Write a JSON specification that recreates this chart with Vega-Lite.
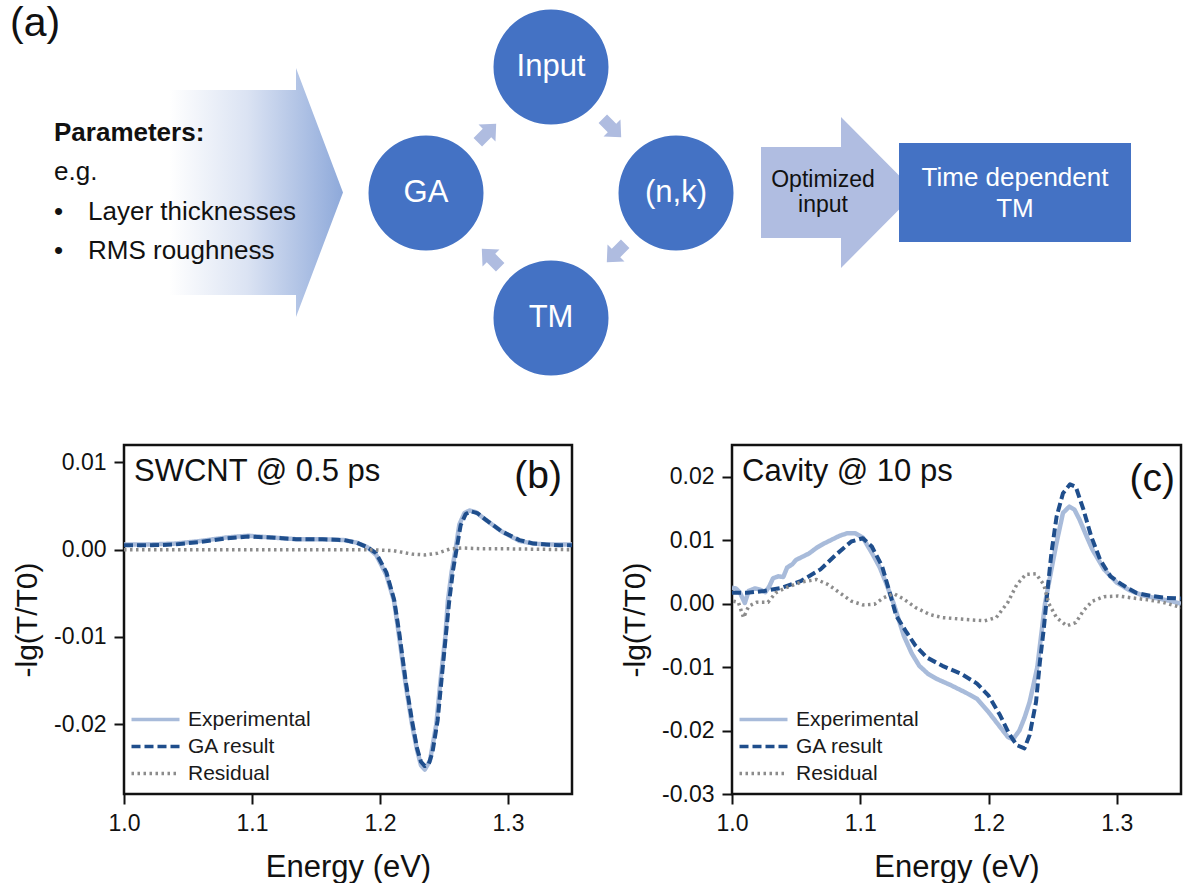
{
  "$schema": "https://vega.github.io/schema/vega-lite/v6.json",
  "padding": {"left": 10, "top": 0, "right": 0, "bottom": 0},
  "background": "white",
  "spacing": 43,
  "align": "none",
  "resolve": {"legend": {"color": "independent", "strokeDash": "independent"}},
  "config": {
    "font": "Liberation Sans",
    "view": {"stroke": "#111111", "strokeWidth": 2.5},
    "axis": {
      "grid": false, "domain": false, "ticks": true, "labelFlush": false,
      "tickColor": "#111111", "tickWidth": 2, "tickSize": 10,
      "labelFont": "Liberation Sans", "labelFontSize": 23, "labelColor": "#111111",
      "titleFont": "Liberation Sans", "titleFontWeight": "normal", "titleColor": "#111111"
    },
    "axisX": {"labelPadding": 8, "titlePadding": 17, "titleFontSize": 31},
    "axisY": {"labelPadding": 8, "titlePadding": 12, "titleFontSize": 30, "minExtent": 70, "maxExtent": 70},
    "text": {"font": "Liberation Sans"}
  },
  "datasets": {
    "diagramNodes": [
      {"name": "GA", "x": 427, "y": 193},
      {"name": "Input", "x": 552, "y": 67},
      {"name": "(n,k)", "x": 677, "y": 193},
      {"name": "TM", "x": 552, "y": 318}
    ],
    "diagramSteps": [
      {"x": 488, "y": 133, "heading": -45},
      {"x": 613, "y": 128, "heading": 45},
      {"x": 617, "y": 253, "heading": 135},
      {"x": 492, "y": 258, "heading": -135}
    ],
    "diagramText": [
      {"t": "(a)", "x": 11, "y": 24, "role": "tag"},
      {"t": "Parameters:", "x": 55, "y": 133, "role": "heading"},
      {"t": "e.g.", "x": 55, "y": 172, "role": "body"},
      {"t": "•", "x": 55, "y": 212, "role": "body"},
      {"t": "Layer thicknesses", "x": 89, "y": 212, "role": "body"},
      {"t": "•", "x": 55, "y": 251, "role": "body"},
      {"t": "RMS roughness", "x": 89, "y": 251, "role": "body"},
      {"t": "Optimized", "x": 824, "y": 180, "role": "flow"},
      {"t": "input", "x": 824, "y": 205, "role": "flow"},
      {"t": "Time dependent", "x": 1016, "y": 178, "role": "box"},
      {"t": "TM", "x": 1016, "y": 209, "role": "box"}
    ],
    "swcnt": [
      {"E": 1.000, "v": 0.0006, "series": "Experimental"},
      {"E": 1.020, "v": 0.0006, "series": "Experimental"},
      {"E": 1.040, "v": 0.0007, "series": "Experimental"},
      {"E": 1.060, "v": 0.0010, "series": "Experimental"},
      {"E": 1.080, "v": 0.0014, "series": "Experimental"},
      {"E": 1.097, "v": 0.0016, "series": "Experimental"},
      {"E": 1.115, "v": 0.0014, "series": "Experimental"},
      {"E": 1.135, "v": 0.0012, "series": "Experimental"},
      {"E": 1.155, "v": 0.0012, "series": "Experimental"},
      {"E": 1.172, "v": 0.0011, "series": "Experimental"},
      {"E": 1.182, "v": 0.0008, "series": "Experimental"},
      {"E": 1.190, "v": 0.0003, "series": "Experimental"},
      {"E": 1.197, "v": -0.0006, "series": "Experimental"},
      {"E": 1.205, "v": -0.0029, "series": "Experimental"},
      {"E": 1.211, "v": -0.0059, "series": "Experimental"},
      {"E": 1.215, "v": -0.0100, "series": "Experimental"},
      {"E": 1.220, "v": -0.0154, "series": "Experimental"},
      {"E": 1.225, "v": -0.0200, "series": "Experimental"},
      {"E": 1.229, "v": -0.0230, "series": "Experimental"},
      {"E": 1.232, "v": -0.0247, "series": "Experimental"},
      {"E": 1.235, "v": -0.0252, "series": "Experimental"},
      {"E": 1.239, "v": -0.0242, "series": "Experimental"},
      {"E": 1.244, "v": -0.0200, "series": "Experimental"},
      {"E": 1.247, "v": -0.0154, "series": "Experimental"},
      {"E": 1.251, "v": -0.0100, "series": "Experimental"},
      {"E": 1.253, "v": -0.0059, "series": "Experimental"},
      {"E": 1.256, "v": -0.0025, "series": "Experimental"},
      {"E": 1.259, "v": 0.0000, "series": "Experimental"},
      {"E": 1.262, "v": 0.0029, "series": "Experimental"},
      {"E": 1.266, "v": 0.0042, "series": "Experimental"},
      {"E": 1.270, "v": 0.0045, "series": "Experimental"},
      {"E": 1.275, "v": 0.0043, "series": "Experimental"},
      {"E": 1.281, "v": 0.0036, "series": "Experimental"},
      {"E": 1.295, "v": 0.0021, "series": "Experimental"},
      {"E": 1.309, "v": 0.0010, "series": "Experimental"},
      {"E": 1.320, "v": 0.0007, "series": "Experimental"},
      {"E": 1.330, "v": 0.0006, "series": "Experimental"},
      {"E": 1.340, "v": 0.0006, "series": "Experimental"},
      {"E": 1.350, "v": 0.0006, "series": "Experimental"},
      {"E": 1.000, "v": 0.0005, "series": "GA result"},
      {"E": 1.020, "v": 0.0005, "series": "GA result"},
      {"E": 1.040, "v": 0.0006, "series": "GA result"},
      {"E": 1.060, "v": 0.0009, "series": "GA result"},
      {"E": 1.080, "v": 0.0013, "series": "GA result"},
      {"E": 1.097, "v": 0.0015, "series": "GA result"},
      {"E": 1.115, "v": 0.0014, "series": "GA result"},
      {"E": 1.135, "v": 0.0012, "series": "GA result"},
      {"E": 1.155, "v": 0.0012, "series": "GA result"},
      {"E": 1.172, "v": 0.0011, "series": "GA result"},
      {"E": 1.182, "v": 0.0008, "series": "GA result"},
      {"E": 1.190, "v": 0.0003, "series": "GA result"},
      {"E": 1.197, "v": -0.0004, "series": "GA result"},
      {"E": 1.205, "v": -0.0026, "series": "GA result"},
      {"E": 1.211, "v": -0.0057, "series": "GA result"},
      {"E": 1.215, "v": -0.0095, "series": "GA result"},
      {"E": 1.220, "v": -0.0150, "series": "GA result"},
      {"E": 1.225, "v": -0.0196, "series": "GA result"},
      {"E": 1.229, "v": -0.0228, "series": "GA result"},
      {"E": 1.232, "v": -0.0243, "series": "GA result"},
      {"E": 1.235, "v": -0.0248, "series": "GA result"},
      {"E": 1.238, "v": -0.0246, "series": "GA result"},
      {"E": 1.241, "v": -0.0232, "series": "GA result"},
      {"E": 1.245, "v": -0.0196, "series": "GA result"},
      {"E": 1.248, "v": -0.0150, "series": "GA result"},
      {"E": 1.251, "v": -0.0105, "series": "GA result"},
      {"E": 1.254, "v": -0.0060, "series": "GA result"},
      {"E": 1.257, "v": -0.0024, "series": "GA result"},
      {"E": 1.260, "v": 0.0002, "series": "GA result"},
      {"E": 1.263, "v": 0.0028, "series": "GA result"},
      {"E": 1.267, "v": 0.0041, "series": "GA result"},
      {"E": 1.271, "v": 0.0044, "series": "GA result"},
      {"E": 1.276, "v": 0.0042, "series": "GA result"},
      {"E": 1.282, "v": 0.0035, "series": "GA result"},
      {"E": 1.295, "v": 0.0021, "series": "GA result"},
      {"E": 1.309, "v": 0.0011, "series": "GA result"},
      {"E": 1.320, "v": 0.0007, "series": "GA result"},
      {"E": 1.330, "v": 0.0006, "series": "GA result"},
      {"E": 1.340, "v": 0.0005, "series": "GA result"},
      {"E": 1.350, "v": 0.0005, "series": "GA result"},
      {"E": 1.000, "v": 0.0000, "series": "Residual"},
      {"E": 1.050, "v": 0.0000, "series": "Residual"},
      {"E": 1.100, "v": 0.0000, "series": "Residual"},
      {"E": 1.150, "v": 0.0000, "series": "Residual"},
      {"E": 1.190, "v": 0.0000, "series": "Residual"},
      {"E": 1.210, "v": -0.0001, "series": "Residual"},
      {"E": 1.225, "v": -0.0005, "series": "Residual"},
      {"E": 1.235, "v": -0.0006, "series": "Residual"},
      {"E": 1.245, "v": -0.0004, "series": "Residual"},
      {"E": 1.255, "v": 0.0001, "series": "Residual"},
      {"E": 1.265, "v": 0.0002, "series": "Residual"},
      {"E": 1.280, "v": 0.0001, "series": "Residual"},
      {"E": 1.300, "v": 0.0001, "series": "Residual"},
      {"E": 1.350, "v": 0.0000, "series": "Residual"}
    ],
    "cavity": [
      {"E": 1.000, "v": 0.0025, "series": "Experimental"},
      {"E": 1.003, "v": 0.0024, "series": "Experimental"},
      {"E": 1.006, "v": 0.0018, "series": "Experimental"},
      {"E": 1.010, "v": 0.0001, "series": "Experimental"},
      {"E": 1.013, "v": 0.0020, "series": "Experimental"},
      {"E": 1.018, "v": 0.0024, "series": "Experimental"},
      {"E": 1.022, "v": 0.0022, "series": "Experimental"},
      {"E": 1.026, "v": 0.0018, "series": "Experimental"},
      {"E": 1.029, "v": 0.0027, "series": "Experimental"},
      {"E": 1.032, "v": 0.0040, "series": "Experimental"},
      {"E": 1.036, "v": 0.0043, "series": "Experimental"},
      {"E": 1.040, "v": 0.0042, "series": "Experimental"},
      {"E": 1.043, "v": 0.0057, "series": "Experimental"},
      {"E": 1.047, "v": 0.0062, "series": "Experimental"},
      {"E": 1.050, "v": 0.0069, "series": "Experimental"},
      {"E": 1.055, "v": 0.0074, "series": "Experimental"},
      {"E": 1.060, "v": 0.0079, "series": "Experimental"},
      {"E": 1.066, "v": 0.0088, "series": "Experimental"},
      {"E": 1.072, "v": 0.0095, "series": "Experimental"},
      {"E": 1.078, "v": 0.0101, "series": "Experimental"},
      {"E": 1.084, "v": 0.0107, "series": "Experimental"},
      {"E": 1.090, "v": 0.0111, "series": "Experimental"},
      {"E": 1.096, "v": 0.0111, "series": "Experimental"},
      {"E": 1.102, "v": 0.0104, "series": "Experimental"},
      {"E": 1.109, "v": 0.0080, "series": "Experimental"},
      {"E": 1.115, "v": 0.0058, "series": "Experimental"},
      {"E": 1.120, "v": 0.0033, "series": "Experimental"},
      {"E": 1.126, "v": 0.0000, "series": "Experimental"},
      {"E": 1.134, "v": -0.0051, "series": "Experimental"},
      {"E": 1.140, "v": -0.0078, "series": "Experimental"},
      {"E": 1.146, "v": -0.0098, "series": "Experimental"},
      {"E": 1.153, "v": -0.0111, "series": "Experimental"},
      {"E": 1.160, "v": -0.0119, "series": "Experimental"},
      {"E": 1.170, "v": -0.0128, "series": "Experimental"},
      {"E": 1.182, "v": -0.0140, "series": "Experimental"},
      {"E": 1.191, "v": -0.0150, "series": "Experimental"},
      {"E": 1.200, "v": -0.0171, "series": "Experimental"},
      {"E": 1.210, "v": -0.0197, "series": "Experimental"},
      {"E": 1.215, "v": -0.0210, "series": "Experimental"},
      {"E": 1.219, "v": -0.0214, "series": "Experimental"},
      {"E": 1.224, "v": -0.0200, "series": "Experimental"},
      {"E": 1.228, "v": -0.0180, "series": "Experimental"},
      {"E": 1.232, "v": -0.0155, "series": "Experimental"},
      {"E": 1.235, "v": -0.0128, "series": "Experimental"},
      {"E": 1.238, "v": -0.0100, "series": "Experimental"},
      {"E": 1.241, "v": -0.0050, "series": "Experimental"},
      {"E": 1.244, "v": 0.0000, "series": "Experimental"},
      {"E": 1.249, "v": 0.0054, "series": "Experimental"},
      {"E": 1.253, "v": 0.0096, "series": "Experimental"},
      {"E": 1.258, "v": 0.0143, "series": "Experimental"},
      {"E": 1.263, "v": 0.0153, "series": "Experimental"},
      {"E": 1.267, "v": 0.0148, "series": "Experimental"},
      {"E": 1.271, "v": 0.0132, "series": "Experimental"},
      {"E": 1.276, "v": 0.0108, "series": "Experimental"},
      {"E": 1.281, "v": 0.0085, "series": "Experimental"},
      {"E": 1.290, "v": 0.0054, "series": "Experimental"},
      {"E": 1.300, "v": 0.0033, "series": "Experimental"},
      {"E": 1.310, "v": 0.0021, "series": "Experimental"},
      {"E": 1.320, "v": 0.0013, "series": "Experimental"},
      {"E": 1.330, "v": 0.0009, "series": "Experimental"},
      {"E": 1.340, "v": 0.0005, "series": "Experimental"},
      {"E": 1.350, "v": 0.0000, "series": "Experimental"},
      {"E": 1.000, "v": 0.0017, "series": "GA result"},
      {"E": 1.012, "v": 0.0017, "series": "GA result"},
      {"E": 1.025, "v": 0.0020, "series": "GA result"},
      {"E": 1.039, "v": 0.0025, "series": "GA result"},
      {"E": 1.054, "v": 0.0036, "series": "GA result"},
      {"E": 1.069, "v": 0.0054, "series": "GA result"},
      {"E": 1.081, "v": 0.0077, "series": "GA result"},
      {"E": 1.093, "v": 0.0098, "series": "GA result"},
      {"E": 1.102, "v": 0.0103, "series": "GA result"},
      {"E": 1.109, "v": 0.0090, "series": "GA result"},
      {"E": 1.117, "v": 0.0059, "series": "GA result"},
      {"E": 1.123, "v": 0.0017, "series": "GA result"},
      {"E": 1.128, "v": -0.0019, "series": "GA result"},
      {"E": 1.136, "v": -0.0045, "series": "GA result"},
      {"E": 1.143, "v": -0.0066, "series": "GA result"},
      {"E": 1.152, "v": -0.0085, "series": "GA result"},
      {"E": 1.164, "v": -0.0098, "series": "GA result"},
      {"E": 1.179, "v": -0.0111, "series": "GA result"},
      {"E": 1.191, "v": -0.0126, "series": "GA result"},
      {"E": 1.200, "v": -0.0145, "series": "GA result"},
      {"E": 1.209, "v": -0.0176, "series": "GA result"},
      {"E": 1.216, "v": -0.0205, "series": "GA result"},
      {"E": 1.222, "v": -0.0223, "series": "GA result"},
      {"E": 1.228, "v": -0.0228, "series": "GA result"},
      {"E": 1.232, "v": -0.0207, "series": "GA result"},
      {"E": 1.237, "v": -0.0155, "series": "GA result"},
      {"E": 1.240, "v": -0.0092, "series": "GA result"},
      {"E": 1.243, "v": -0.0040, "series": "GA result"},
      {"E": 1.246, "v": 0.0022, "series": "GA result"},
      {"E": 1.249, "v": 0.0080, "series": "GA result"},
      {"E": 1.253, "v": 0.0137, "series": "GA result"},
      {"E": 1.258, "v": 0.0174, "series": "GA result"},
      {"E": 1.2635, "v": 0.0188, "series": "GA result"},
      {"E": 1.268, "v": 0.0184, "series": "GA result"},
      {"E": 1.274, "v": 0.0148, "series": "GA result"},
      {"E": 1.280, "v": 0.0106, "series": "GA result"},
      {"E": 1.287, "v": 0.0069, "series": "GA result"},
      {"E": 1.295, "v": 0.0043, "series": "GA result"},
      {"E": 1.304, "v": 0.0030, "series": "GA result"},
      {"E": 1.315, "v": 0.0017, "series": "GA result"},
      {"E": 1.327, "v": 0.0012, "series": "GA result"},
      {"E": 1.339, "v": 0.0009, "series": "GA result"},
      {"E": 1.350, "v": 0.0008, "series": "GA result"},
      {"E": 1.001, "v": 0.0004, "series": "Residual"},
      {"E": 1.005, "v": 0.0002, "series": "Residual"},
      {"E": 1.009, "v": -0.0022, "series": "Residual"},
      {"E": 1.013, "v": -0.0004, "series": "Residual"},
      {"E": 1.019, "v": 0.0002, "series": "Residual"},
      {"E": 1.028, "v": 0.0002, "series": "Residual"},
      {"E": 1.034, "v": 0.0017, "series": "Residual"},
      {"E": 1.042, "v": 0.0025, "series": "Residual"},
      {"E": 1.054, "v": 0.0034, "series": "Residual"},
      {"E": 1.066, "v": 0.0038, "series": "Residual"},
      {"E": 1.075, "v": 0.0030, "series": "Residual"},
      {"E": 1.084, "v": 0.0017, "series": "Residual"},
      {"E": 1.093, "v": 0.0004, "series": "Residual"},
      {"E": 1.102, "v": -0.0002, "series": "Residual"},
      {"E": 1.111, "v": -0.0001, "series": "Residual"},
      {"E": 1.118, "v": 0.0009, "series": "Residual"},
      {"E": 1.126, "v": 0.0016, "series": "Residual"},
      {"E": 1.134, "v": 0.0007, "series": "Residual"},
      {"E": 1.143, "v": -0.0006, "series": "Residual"},
      {"E": 1.154, "v": -0.0017, "series": "Residual"},
      {"E": 1.164, "v": -0.0022, "series": "Residual"},
      {"E": 1.182, "v": -0.0025, "series": "Residual"},
      {"E": 1.197, "v": -0.0027, "series": "Residual"},
      {"E": 1.206, "v": -0.0022, "series": "Residual"},
      {"E": 1.215, "v": 0.0002, "series": "Residual"},
      {"E": 1.222, "v": 0.0030, "series": "Residual"},
      {"E": 1.229, "v": 0.0046, "series": "Residual"},
      {"E": 1.237, "v": 0.0047, "series": "Residual"},
      {"E": 1.243, "v": 0.0030, "series": "Residual"},
      {"E": 1.247, "v": 0.0000, "series": "Residual"},
      {"E": 1.253, "v": -0.0022, "series": "Residual"},
      {"E": 1.261, "v": -0.0035, "series": "Residual"},
      {"E": 1.268, "v": -0.0030, "series": "Residual"},
      {"E": 1.274, "v": -0.0011, "series": "Residual"},
      {"E": 1.281, "v": 0.0004, "series": "Residual"},
      {"E": 1.290, "v": 0.0011, "series": "Residual"},
      {"E": 1.301, "v": 0.0012, "series": "Residual"},
      {"E": 1.312, "v": 0.0009, "series": "Residual"},
      {"E": 1.324, "v": 0.0006, "series": "Residual"},
      {"E": 1.336, "v": 0.0002, "series": "Residual"},
      {"E": 1.350, "v": -0.0006, "series": "Residual"}
    ]
  },
  "vconcat": [
    {
      "width": 1061,
      "height": 400,
      "view": {"stroke": null},
      "encoding": {
        "x": {"field": "x", "type": "quantitative", "scale": {"domain": [125, 1186], "nice": false, "zero": false}, "axis": null},
        "y": {"field": "y", "type": "quantitative", "scale": {"domain": [0, 400], "reverse": true, "nice": false, "zero": false}, "axis": null}
      },
      "layer": [
        {
          "data": {"values": [{"x": 257, "y": 192.5}]},
          "mark": {
            "type": "point", "filled": true, "opacity": 1, "strokeWidth": 0, "size": 4,
            "shape": "M-87,-102.5L40,-102.5L40,-124.5L87,0L40,124.5L40,102.5L-87,102.5Z",
            "fill": {"gradient": "linear", "x1": 0, "y1": 0, "x2": 1, "y2": 0,
              "stops": [{"offset": 0, "color": "#ffffff"}, {"offset": 0.45, "color": "#dbe3f3"}, {"offset": 1, "color": "#8ea9da"}]}
          }
        },
        {
          "data": {"values": [{"x": 839.5, "y": 192.5}]},
          "mark": {
            "type": "point", "filled": true, "opacity": 1, "strokeWidth": 0, "size": 4,
            "shape": "M-77.5,-45.5L2.5,-45.5L2.5,-75.5L77.5,0L2.5,75.5L2.5,45.5L-77.5,45.5Z",
            "fill": "#b0bde1"
          }
        },
        {
          "data": {"values": [{"x": 900, "x2": 1132, "y": 143, "y2": 242}]},
          "mark": {"type": "rect", "fill": "#4472c4"},
          "encoding": {"x2": {"field": "x2"}, "y2": {"field": "y2"}}
        },
        {
          "data": {"name": "diagramNodes"},
          "mark": {"type": "point", "shape": "circle", "filled": true, "opacity": 1, "strokeWidth": 0, "size": 13225, "fill": "#4472c4"}
        },
        {
          "data": {"name": "diagramSteps"},
          "mark": {
            "type": "point", "filled": true, "opacity": 1, "strokeWidth": 0, "size": 4,
            "shape": "M-13,-6L0,-6L0,-12L13,0L0,12L0,6L-13,6Z", "fill": "#afbce0"
          },
          "encoding": {"angle": {"field": "heading", "type": "quantitative", "scale": null}}
        },
        {
          "data": {"name": "diagramNodes"},
          "mark": {"type": "text", "align": "center", "baseline": "middle", "fontSize": 31, "fill": "#ffffff"},
          "encoding": {"text": {"field": "name"}}
        },
        {
          "data": {"name": "diagramText"},
          "transform": [{"filter": "datum.role === 'tag'"}],
          "mark": {"type": "text", "align": "left", "baseline": "middle", "fontSize": 41, "fill": "#111111"},
          "encoding": {"text": {"field": "t"}}
        },
        {
          "data": {"name": "diagramText"},
          "transform": [{"filter": "datum.role === 'heading'"}],
          "mark": {"type": "text", "align": "left", "baseline": "middle", "fontSize": 26, "fontWeight": "bold", "fill": "#111111"},
          "encoding": {"text": {"field": "t"}}
        },
        {
          "data": {"name": "diagramText"},
          "transform": [{"filter": "datum.role === 'body'"}],
          "mark": {"type": "text", "align": "left", "baseline": "middle", "fontSize": 26, "fill": "#111111"},
          "encoding": {"text": {"field": "t"}}
        },
        {
          "data": {"name": "diagramText"},
          "transform": [{"filter": "datum.role === 'flow'"}],
          "mark": {"type": "text", "align": "center", "baseline": "middle", "fontSize": 23, "fill": "#111111"},
          "encoding": {"text": {"field": "t"}}
        },
        {
          "data": {"name": "diagramText"},
          "transform": [{"filter": "datum.role === 'box'"}],
          "mark": {"type": "text", "align": "center", "baseline": "middle", "fontSize": 26, "fill": "#ffffff"},
          "encoding": {"text": {"field": "t"}}
        }
      ]
    },
    {
      "spacing": 44,
      "resolve": {"legend": {"color": "independent", "strokeDash": "independent"}},
      "hconcat": [
        {
          "width": 448,
          "height": 349,
          "layer": [
            {
              "data": {"name": "swcnt"},
              "mark": {"type": "line", "strokeJoin": "round", "clip": true},
              "encoding": {
                "x": {"field": "E", "type": "quantitative", "title": "Energy (eV)",
                  "scale": {"domain": [1.0, 1.35], "nice": false, "zero": false},
                  "axis": {"values": [1.0, 1.1, 1.2, 1.3], "format": ".1f"}},
                "y": {"field": "v", "type": "quantitative", "title": "-lg(T/T0)",
                  "scale": {"domain": [-0.028, 0.012], "nice": false, "zero": false},
                  "axis": {"values": [-0.02, -0.01, 0, 0.01], "labelExpr": "(datum.value < 0 ? '-' : '') + format(abs(datum.value), '.2f')"}},
                "color": {"field": "series", "type": "nominal",
                  "scale": {"domain": ["Experimental", "GA result", "Residual"], "range": ["#a8bbda", "#1f4e8c", "#8c8c8c"]},
                  "legend": {"title": null, "orient": "none", "legendX": 21, "legendY": 264, "symbolType": "M-3,0H3", "symbolSize": 256, "symbolStrokeWidth": 3.5, "labelFontSize": 21, "labelOffset": 22, "rowPadding": 5, "labelColor": "#1a1a1a", "padding": 0}},
                "strokeDash": {"field": "series", "type": "nominal",
                  "scale": {"domain": ["Experimental", "GA result", "Residual"], "range": [[1, 0], [9, 4], [2.5, 3.5]]},
                  "legend": {"title": null, "orient": "none", "legendX": 21, "legendY": 264, "symbolType": "M-3,0H3", "symbolSize": 256, "symbolStrokeWidth": 3.5, "labelFontSize": 21, "labelOffset": 22, "rowPadding": 5, "labelColor": "#1a1a1a", "padding": 0}},
                "strokeWidth": {"field": "series", "type": "nominal",
                  "scale": {"domain": ["Experimental", "GA result", "Residual"], "range": [4.5, 3.5, 2.5]}, "legend": null}
              }
            },
            {
              "data": {"values": [{}]},
              "mark": {"type": "text", "align": "left", "baseline": "middle", "dx": 10, "dy": 27, "fontSize": 31, "fill": "#111111"},
              "encoding": {"x": {"datum": 1.0}, "y": {"datum": 0.012}, "text": {"value": "SWCNT @ 0.5 ps"}}
            },
            {
              "data": {"values": [{}]},
              "mark": {"type": "text", "align": "right", "baseline": "middle", "dx": -10, "dy": 31, "fontSize": 39, "fill": "#111111"},
              "encoding": {"x": {"datum": 1.35}, "y": {"datum": 0.012}, "text": {"value": "(b)"}}
            }
          ]
        },
        {
          "width": 449,
          "height": 349,
          "layer": [
            {
              "data": {"name": "cavity"},
              "mark": {"type": "line", "strokeJoin": "round", "clip": true},
              "encoding": {
                "x": {"field": "E", "type": "quantitative", "title": "Energy (eV)",
                  "scale": {"domain": [1.0, 1.35], "nice": false, "zero": false},
                  "axis": {"values": [1.0, 1.1, 1.2, 1.3], "format": ".1f"}},
                "y": {"field": "v", "type": "quantitative", "title": "-lg(T/T0)",
                  "scale": {"domain": [-0.03, 0.025], "nice": false, "zero": false},
                  "axis": {"values": [-0.03, -0.02, -0.01, 0, 0.01, 0.02], "labelExpr": "(datum.value < 0 ? '-' : '') + format(abs(datum.value), '.2f')"}},
                "color": {"field": "series", "type": "nominal",
                  "scale": {"domain": ["Experimental", "GA result", "Residual"], "range": ["#a8bbda", "#1f4e8c", "#8c8c8c"]},
                  "legend": {"title": null, "orient": "none", "legendX": 21, "legendY": 264, "symbolType": "M-3,0H3", "symbolSize": 256, "symbolStrokeWidth": 3.5, "labelFontSize": 21, "labelOffset": 22, "rowPadding": 5, "labelColor": "#1a1a1a", "padding": 0}},
                "strokeDash": {"field": "series", "type": "nominal",
                  "scale": {"domain": ["Experimental", "GA result", "Residual"], "range": [[1, 0], [9, 4], [2.5, 3.5]]},
                  "legend": {"title": null, "orient": "none", "legendX": 21, "legendY": 264, "symbolType": "M-3,0H3", "symbolSize": 256, "symbolStrokeWidth": 3.5, "labelFontSize": 21, "labelOffset": 22, "rowPadding": 5, "labelColor": "#1a1a1a", "padding": 0}},
                "strokeWidth": {"field": "series", "type": "nominal",
                  "scale": {"domain": ["Experimental", "GA result", "Residual"], "range": [4.5, 3.5, 2.5]}, "legend": null}
              }
            },
            {
              "data": {"values": [{}]},
              "mark": {"type": "text", "align": "left", "baseline": "middle", "dx": 10, "dy": 27, "fontSize": 31, "fill": "#111111"},
              "encoding": {"x": {"datum": 1.0}, "y": {"datum": 0.025}, "text": {"value": "Cavity @ 10 ps"}}
            },
            {
              "data": {"values": [{}]},
              "mark": {"type": "text", "align": "right", "baseline": "middle", "dx": -6, "dy": 34, "fontSize": 39, "fill": "#111111"},
              "encoding": {"x": {"datum": 1.35}, "y": {"datum": 0.025}, "text": {"value": "(c)"}}
            }
          ]
        }
      ]
    }
  ]
}
